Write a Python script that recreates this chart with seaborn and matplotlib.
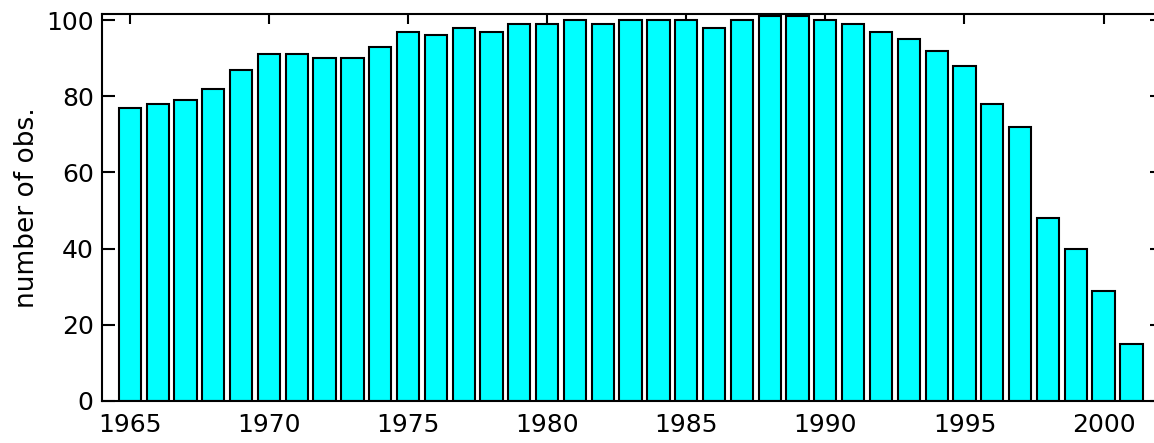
import matplotlib
matplotlib.use("Agg")
import matplotlib.pyplot as plt
import seaborn as sns
import pandas as pd

years = list(range(1965, 2002))
counts = [77, 78, 79, 82, 87, 91, 91, 90, 90, 93,
          97, 96, 98, 97, 99, 99, 100, 99, 100, 100,
          100, 98, 100, 101, 101, 100, 99, 97, 95, 92,
          88, 78, 72, 48, 40, 29, 15]
xticks = [1965, 1970, 1975, 1980, 1985, 1990, 1995, 2000]
yticks = [0, 20, 40, 60, 80, 100]

sns.set_theme(style="white")
plt.rcParams['font.family'] = ['DejaVu Sans']
plt.rcParams['text.color'] = 'black'
plt.rcParams['axes.labelcolor'] = 'black'
plt.rcParams['xtick.color'] = 'black'
plt.rcParams['ytick.color'] = 'black'

df = pd.DataFrame({"year": years, "count": counts})

fig = plt.figure(figsize=(11.54, 4.43), dpi=100)
ax = fig.add_axes([102/1154, 42/443, (1162-102)/1154, (401-14)/443])

sns.barplot(data=df, x="year", y="count", native_scale=True, width=0.8,
            color="#00FFFF", saturation=1, edgecolor="black", linewidth=1.5, ax=ax)

ax.set_xlim(1964, 2002.1)
ax.set_ylim(0, 101.6)
ax.set_xticks(xticks)
ax.set_xticklabels([str(t) for t in xticks])
ax.set_yticks(yticks)
ax.set_xlabel("")
ax.set_ylabel("number of obs.", fontsize=19, labelpad=4, color="black")

for s in ax.spines.values():
    s.set_visible(True)
    s.set_color("black")
    s.set_linewidth(1.5)

ax.tick_params(axis="x", which="both", direction="in", top=True, bottom=False,
               labeltop=False, labelbottom=True, length=7, width=1.5,
               pad=9, labelsize=18, color="black", labelcolor="black")
ax.tick_params(axis="y", which="both", direction="in", left=True, right=True,
               length=9, width=1.5, pad=6, labelsize=18, color="black",
               labelcolor="black")

fig.savefig("out.png", dpi=100)
